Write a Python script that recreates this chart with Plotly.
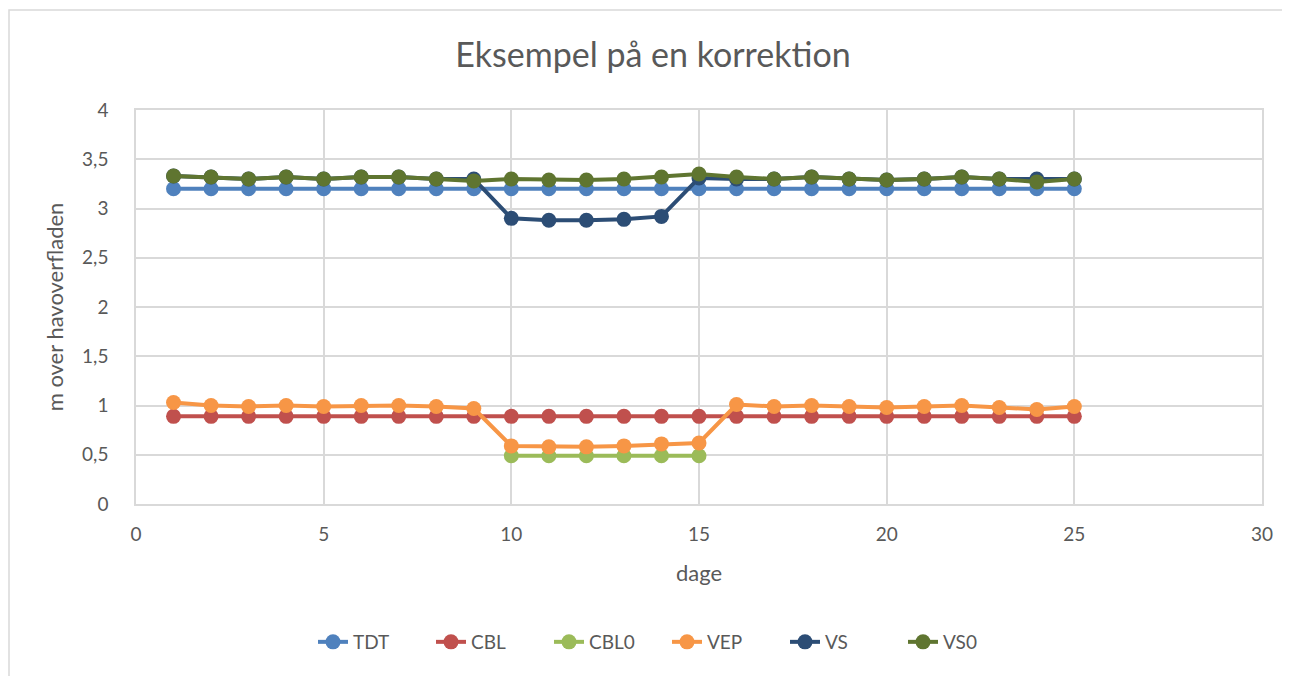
import plotly.graph_objects as go

days = list(range(1, 26))
days_cbl0 = [10, 11, 12, 13, 14, 15]

tdt = [3.2] * 25
cbl = [0.89] * 25
cbl0 = [0.49, 0.49, 0.49, 0.49, 0.49, 0.49]
vep = [1.03, 1.00, 0.99, 1.00, 0.99, 1.00, 1.00, 0.99, 0.97, 0.59,
       0.58, 0.58, 0.59, 0.61, 0.62, 1.01, 0.99, 1.00, 0.99, 0.98,
       0.99, 1.00, 0.98, 0.96, 0.99]
vs = [3.33, 3.32, 3.30, 3.32, 3.30, 3.32, 3.32, 3.30, 3.30, 2.90,
      2.88, 2.88, 2.89, 2.92, 3.31, 3.30, 3.30, 3.32, 3.30, 3.29,
      3.30, 3.32, 3.30, 3.30, 3.30]
vs0 = [3.33, 3.32, 3.30, 3.32, 3.30, 3.32, 3.32, 3.30, 3.28, 3.30,
       3.29, 3.29, 3.30, 3.32, 3.35, 3.32, 3.30, 3.32, 3.30, 3.29,
       3.30, 3.32, 3.30, 3.27, 3.30]

series = [
    ("TDT", days, tdt, "#4F81BD"),
    ("CBL", days, cbl, "#C0504D"),
    ("CBL0", days_cbl0, cbl0, "#9BBB59"),
    ("VEP", days, vep, "#F79646"),
    ("VS", days, vs, "#2C4D75"),
    ("VS0", days, vs0, "#5F7530"),
]

fig = go.Figure()
for name, x, y, c in series:
    fig.add_trace(go.Scatter(
        x=x, y=y, name=name, mode="lines+markers",
        line=dict(color=c, width=4),
        marker=dict(color=c, size=15),
    ))

font = "Lato, 'Open Sans', sans-serif"
grid = "#D9D9D9"
L, R, T, B = 128, 36, 102, 180
PW = 1290 - L - R
PH = 676 - T - B
fig.update_layout(
    width=1290, height=676,
    margin=dict(l=L, r=R, t=T, b=B),
    paper_bgcolor="white", plot_bgcolor="white",
    separators=",.",
    font=dict(family=font, color="#595959", size=19),
    title=dict(text="Eksempel på en korrektion", x=0.5, xanchor="center",
               y=1 - 47 / 676, yanchor="middle",
               font=dict(size=34, color="#595959", family=font)),
    xaxis=dict(range=[0, 30], dtick=5, tick0=0, showgrid=True, gridcolor=grid,
               gridwidth=1.5, zeroline=False, showline=True, linecolor=grid,
               linewidth=1.5, mirror=True, ticks="", tickfont=dict(size=19),
               ticklabelstandoff=12,
               title=dict(text="dage", font=dict(size=22), standoff=22)),
    yaxis=dict(range=[0, 4], dtick=0.5, tick0=0, showgrid=True, gridcolor=grid,
               gridwidth=1.5, zeroline=False, showline=True, linecolor=grid,
               linewidth=1.5, mirror=True, ticks="", tickfont=dict(size=19),
               ticklabelstandoff=22,
               title=dict(text="m over havoverfladen", font=dict(size=22), standoff=12)),
    legend=dict(orientation="h", x=(305 - L) / PW, xanchor="left",
                y=(PH + T - 634) / PH, yanchor="middle",
                entrywidth=73, entrywidthmode="pixels",
                font=dict(size=19), traceorder="normal"),
    showlegend=True,
)
fig.add_shape(type="rect", xref="paper", yref="paper",
              x0=(1 - L) / PW, x1=(1300 - L) / PW,
              y0=(PH + T - 700) / PH, y1=(PH + T - 2) / PH,
              line=dict(color=grid, width=1.5), fillcolor="rgba(0,0,0,0)", layer="below")

fig.write_html("out.html")
